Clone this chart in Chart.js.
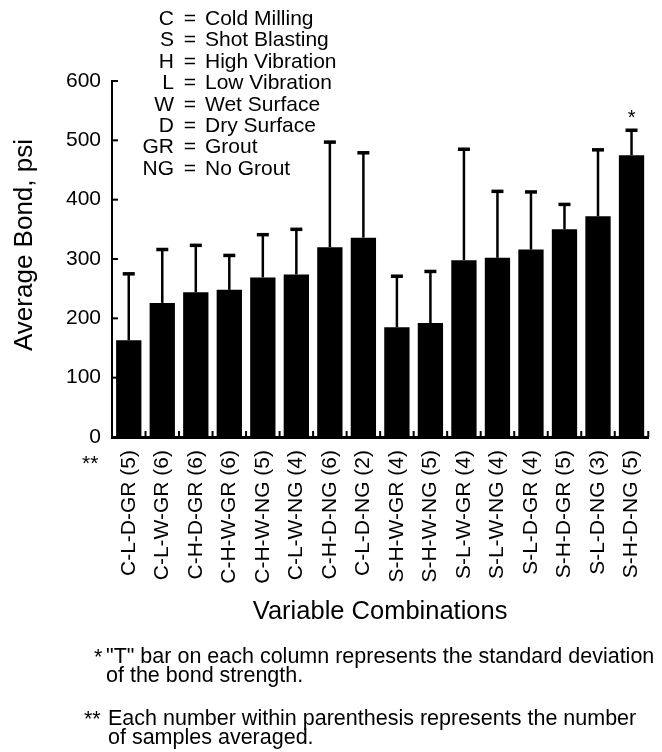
<!DOCTYPE html>
<html>
<head>
<meta charset="utf-8">
<script src="https://cdn.jsdelivr.net/npm/chart.js@4/dist/chart.umd.min.js"></script>
<style>
  body { margin: 0; background: #fff; }
  #wrap { position: relative; width: 662px; height: 752px; font-family: "Liberation Sans", Arial, sans-serif; color: #000; }
  canvas { position: absolute; left: 0; top: 0; }
  .abs { position: absolute; white-space: nowrap; font-size: 21px; line-height: 20px; }
  .note { font-size: 21.5px; }
  .k { text-align: right; width: 60px; }
  .eq { text-align: center; width: 14px; }
  .ytitle { font-size: 26px; line-height: 30px; width: 300px; text-align: center;
            left: -127px; top: 230px; transform: rotate(-90deg); }
</style>
</head>
<body>
<div id="wrap">
  <canvas id="myChart" width="662" height="752"></canvas>
  <div class="abs ytitle">Average Bond, psi</div>
  <div id="key"></div>
  <div id="notes"></div>
</div>
<script>
// abbreviations shown in the key
const keyCodes = ['C', 'S', 'H', 'L', 'W', 'D', 'GR', 'NG'];
const keyNames = ['Cold Milling', 'Shot Blasting', 'High Vibration', 'Low Vibration',
                  'Wet Surface', 'Dry Surface', 'Grout', 'No Grout'];

// bar categories (number of samples in parenthesis)
const combos = ['C-L-D-GR (5)', 'C-L-W-GR (6)', 'C-H-D-GR (6)', 'C-H-W-GR (6)',
                'C-H-W-NG (5)', 'C-L-W-NG (4)', 'C-H-D-NG (6)', 'C-L-D-NG (2)',
                'S-H-W-GR (4)', 'S-H-W-NG (5)', 'S-L-W-GR (4)', 'S-L-W-NG (4)',
                'S-L-D-GR (4)', 'S-H-D-GR (5)', 'S-L-D-NG (3)', 'S-H-D-NG (5)'];

// average bond, psi
const avgBond = [163, 226, 244, 248, 269, 274, 320, 336, 185, 192, 298, 302, 316, 350, 372, 475];
// standard deviation, psi (the "T" bars)
const stdDev = [112, 90, 79, 58, 72, 76, 177, 143, 86, 87, 187, 112, 97, 42, 112, 42];

const yTicks = [0, 100, 200, 300, 400, 500, 600];
const starred = 15; // bar marked with "*"

const FONT = '"Liberation Sans", Arial, sans-serif';

// key in the top left
const key = document.getElementById('key');
keyCodes.forEach((c, i) => {
  const top = 8 + i * 21.4;
  key.insertAdjacentHTML('beforeend',
    `<div class="abs k" style="left:114px;top:${top}px">${c}</div>` +
    `<div class="abs eq" style="left:183px;top:${top}px">=</div>` +
    `<div class="abs" style="left:205px;top:${top}px">${keyNames[i]}</div>`);
});

// footnotes
const notes = document.getElementById('notes');
notes.innerHTML =
  '<div class="abs" style="left:82px;top:453px">**</div>' +
  '<div class="abs note" style="left:94px;top:647px">*</div>' +
  '<div class="abs note" style="left:106px;top:646px">"T" bar on each column represents the standard deviation</div>' +
  '<div class="abs note" style="left:106px;top:665px">of the bond strength.</div>' +
  '<div class="abs note" style="left:84px;top:709px">**</div>' +
  '<div class="abs note" style="left:108px;top:708px">Each number within parenthesis represents the number</div>' +
  '<div class="abs note" style="left:108px;top:727px">of samples averaged.</div>';

// error bars, inward ticks and the star
const extras = {
  id: 'extras',
  afterDatasetsDraw(chart) {
    const { ctx, chartArea } = chart;
    const x = chart.scales.x, y = chart.scales.y;
    ctx.save();
    ctx.strokeStyle = '#000';
    ctx.fillStyle = '#000';

    avgBond.forEach((m, i) => {
      const px = x.getPixelForValue(i);
      const y0 = y.getPixelForValue(m);
      const y1 = y.getPixelForValue(m + stdDev[i]);
      ctx.lineWidth = 2.5;
      ctx.beginPath(); ctx.moveTo(px, y0); ctx.lineTo(px, y1); ctx.stroke();
      ctx.lineWidth = 3.5;
      ctx.beginPath(); ctx.moveTo(px - 6, y1); ctx.lineTo(px + 6, y1); ctx.stroke();
    });

    // y ticks pointing into the plot
    ctx.lineWidth = 2;
    yTicks.forEach(v => {
      const py = y.getPixelForValue(v);
      ctx.beginPath(); ctx.moveTo(chartArea.left, py); ctx.lineTo(chartArea.left + 6, py); ctx.stroke();
    });

    // x ticks between the bars
    const step = x.getPixelForValue(1) - x.getPixelForValue(0);
    combos.forEach((c, i) => {
      const px = x.getPixelForValue(i) + step / 2;
      ctx.beginPath(); ctx.moveTo(px, chartArea.bottom); ctx.lineTo(px, chartArea.bottom - 6); ctx.stroke();
    });

    // star over the last column
    const sx = x.getPixelForValue(starred);
    const sy = y.getPixelForValue(avgBond[starred] + stdDev[starred]);
    ctx.font = '20px ' + FONT;
    ctx.textAlign = 'center';
    ctx.textBaseline = 'middle';
    ctx.fillText('*', sx, sy - 12);
    ctx.restore();
  }
};

const ctx = document.getElementById('myChart');

new Chart(ctx, {
  type: 'bar',
  data: {
    labels: combos,
    datasets: [{
      data: avgBond,
      backgroundColor: '#000',
      borderWidth: 0,
      barPercentage: 0.755,
      categoryPercentage: 1
    }]
  },
  options: {
    responsive: false,
    animation: false,
    layout: { padding: { top: 81, right: 9, bottom: 120, left: 0 } },
    plugins: {
      legend: { display: false },
      tooltip: { enabled: false }
    },
    scales: {
      x: {
        offset: true,
        grid: { display: false },
        border: { display: true, color: '#000', width: 3 },
        ticks: {
          color: '#000', font: { family: FONT, size: 21 },
          minRotation: 90, maxRotation: 90, autoSkip: false, padding: 5
        },
        title: {
          display: true, text: 'Variable Combinations', color: '#000',
          font: { family: FONT, size: 25.5 }, padding: { top: 0, bottom: 5 }
        },
        afterFit(s) { s.height = 195; }
      },
      y: {
        min: 0, max: 600,
        grid: { display: false },
        border: { display: true, color: '#000', width: 2 },
        ticks: {
          color: '#000', font: { family: FONT, size: 21 }, padding: 3,
          stepSize: 100
        },
        afterFit(s) { s.width = 112; }
      }
    }
  },
  plugins: [extras]
});
</script>
</body>
</html>
